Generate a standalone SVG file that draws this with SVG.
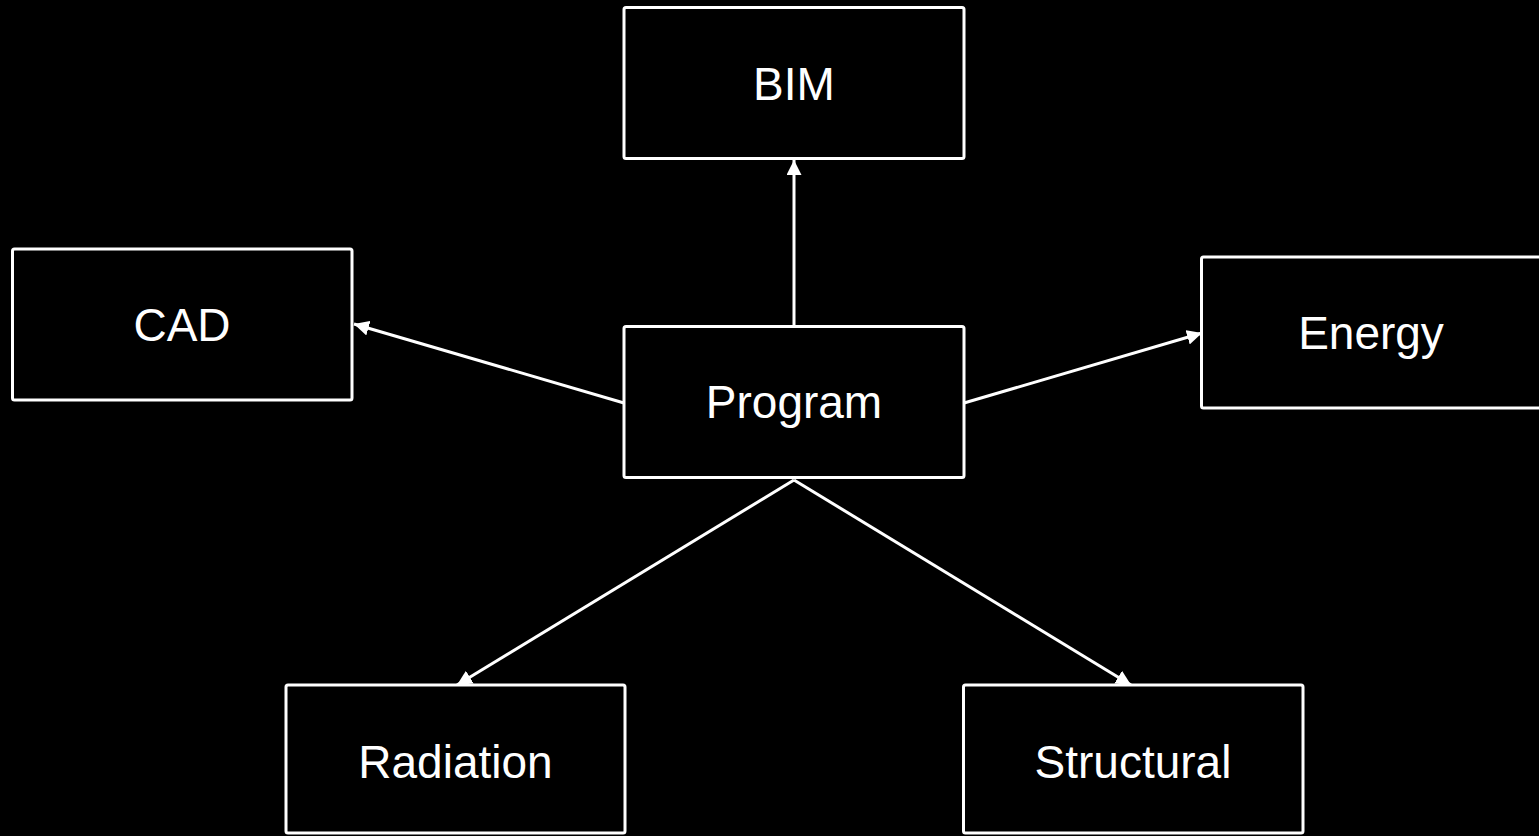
<svg xmlns="http://www.w3.org/2000/svg" width="1539" height="836" viewBox="0 0 1539 836">
<defs>
<style>
.box{fill:#000;stroke:#fff;stroke-width:3}
.lbl{fill:#fff;font-family:"Liberation Sans",Arial,sans-serif;font-size:46px;text-anchor:middle}
.edge{stroke:#fff;stroke-width:3;fill:none}
</style>
<marker id="arr" markerUnits="userSpaceOnUse" markerWidth="15" markerHeight="15" refX="15" refY="7.5" orient="auto" viewBox="0 0 15 15">
<path d="M0,0 L15,7.5 L0,15 z" fill="#fff"/>
</marker>
</defs>
<rect width="1539" height="836" fill="#000"/>
<g id="connectors">
<line class="edge" x1="794" y1="326" x2="794" y2="160" marker-end="url(#arr)"/>
<line class="edge" x1="624" y1="403" x2="354" y2="324" marker-end="url(#arr)"/>
<line class="edge" x1="964" y1="403" x2="1202" y2="333" marker-end="url(#arr)"/>
<line class="edge" x1="794" y1="480" x2="457" y2="685" marker-end="url(#arr)"/>
<line class="edge" x1="794" y1="480" x2="1131" y2="685" marker-end="url(#arr)"/>
</g>
<g id="node-bim">
<rect class="box" x="624" y="7.5" width="340" height="151" rx="2"/>
<text class="lbl" x="794" y="100">BIM</text>
</g>
<g id="node-cad">
<rect class="box" x="12.5" y="249" width="339.5" height="151" rx="2"/>
<text class="lbl" x="182" y="341">CAD</text>
</g>
<g id="node-program">
<rect class="box" x="624" y="326.5" width="340" height="151" rx="2"/>
<text class="lbl" x="794" y="418">Program</text>
</g>
<g id="node-energy">
<rect class="box" x="1201.5" y="257" width="340" height="151" rx="2"/>
<text class="lbl" x="1371" y="349">Energy</text>
</g>
<g id="node-radiation">
<rect class="box" x="286" y="685" width="339" height="148" rx="2"/>
<text class="lbl" x="455.5" y="778">Radiation</text>
</g>
<g id="node-structural">
<rect class="box" x="963.5" y="685" width="339.5" height="148" rx="2"/>
<text class="lbl" x="1133" y="778">Structural</text>
</g>
</svg>
